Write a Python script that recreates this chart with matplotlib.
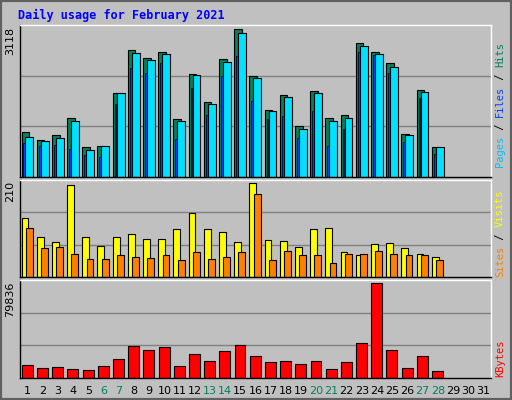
import matplotlib
matplotlib.use("Agg")
import matplotlib.pyplot as plt
from matplotlib.patches import Rectangle

days = list(range(1, 32))
hits = [959,774,877,1247,630,651,1782,2686,2522,2645,1227,2172,1576,2501,3118,2131,1412,1741,1083,1823,1247,1309,2830,2645,2399,898,1843,630]
files = [836,754,815,1185,569,651,1782,2625,2481,2604,1185,2152,1535,2440,3050,2090,1391,1700,1021,1782,1185,1247,2769,2604,2316,877,1802,630]
pages = [713,651,672,589,466,425,1535,2296,2193,2419,795,1885,1309,2131,2563,1597,1227,1288,815,1391,651,1021,2645,2584,2193,733,1679,480]
visits = [132,89,77,205,89,70,89,96,84,84,107,143,107,100,77,210,82,80,66,107,109,55,48,73,75,64,52,45]
sites = [109,64,66,52,41,41,50,45,43,48,39,55,41,45,55,186,39,57,48,50,32,52,52,57,52,48,48,39]
kbytes = [10782,8159,9033,7285,6411,9908,16027,26517,23895,25643,9908,20398,14279,23021,27392,18650,13404,14279,11656,14279,7285,13404,29140,79836,23895,8159,18650,5537]
weekend = [6,7,13,14,20,21,27,28]

W, H = 512, 400
fig = plt.figure(figsize=(W/100, H/100), dpi=100, facecolor="#c0c0c0")
fig.add_artist(Rectangle((0, 0), 1, 1, transform=fig.transFigure, fill=False, ec="#606060", lw=3))
mono = "DejaVu Sans Mono"

def ax_px(x0, y0, x1, y1):
    a = fig.add_axes([x0/W, 1-y1/H, (x1-x0)/W, (y1-y0)/H], facecolor="#c0c0c0")
    a.set_xlim(0.5, 31.5)
    a.set_xticks([]); a.set_yticks([])
    for s in a.spines.values():
        s.set_color("black"); s.set_linewidth(1)
    a.spines["top"].set_color("white"); a.spines["right"].set_color("white")
    return a

n = len(hits)
x = list(range(1, n+1))

a1 = ax_px(20, 25, 491, 177)
top1 = 3118*1.03
a1.set_ylim(0, top1)
for g in (top1/3, 2*top1/3):
    a1.axhline(g, color="#808080", lw=1, zorder=0)
a1.bar([i-0.4 for i in x], hits, width=0.5, align="edge", color="#00805c", ec="black", lw=0.8)
a1.bar([i-0.14 for i in x], files, width=0.52, align="edge", color="#00e0ff", ec="black", lw=0.8)
a1.bar([i-0.27 for i in x], pages, width=0.12, align="edge", color="#0040ff", ec="black", lw=0.5)

a2 = ax_px(20, 180, 491, 277)
top2 = 210*1.03
a2.set_ylim(0, top2)
for g in (top2/3, 2*top2/3):
    a2.axhline(g, color="#808080", lw=1, zorder=0)
a2.bar([i-0.4 for i in x], visits, width=0.45, align="edge", color="#ffff00", ec="black", lw=0.8)
a2.bar([i-0.12 for i in x], sites, width=0.45, align="edge", color="#ff8000", ec="black", lw=0.8)

a3 = ax_px(20, 280, 491, 378)
top3 = 79836*1.03
a3.set_ylim(0, top3)
for g in (top3/3, 2*top3/3):
    a3.axhline(g, color="#808080", lw=1, zorder=0)
a3.bar([i-0.38 for i in x], kbytes, width=0.72, align="edge", color="#ff0000", ec="black", lw=0.8)

a3.set_xticks(days)
a3.set_xticklabels([str(d) for d in days], fontsize=8, fontfamily="DejaVu Sans")
a3.tick_params(axis="x", length=0, pad=6)
for lab, d in zip(a3.get_xticklabels(), days):
    lab.set_color("#00805c" if d in weekend else "black")

fig.text(18/W, 1-15/H, "Daily usage for February 2021", color="#0000ff", fontsize=8.5,
         fontweight="bold", family=mono, va="center", ha="left")

for lbl, y in (("3118", 27), ("210", 181), ("79836", 282)):
    fig.text(10/W, 1-y/H, lbl, rotation=90, fontsize=8, family="DejaVu Sans", ha="center", va="top")

renderer = fig.canvas.get_renderer()

def vlabel(parts, ybottom):
    y = ybottom
    for txt, col in parts:
        t = fig.text(500/W, 1-y/H, txt, rotation=90, fontsize=7.5, family=mono, color=col,
                     ha="center", va="bottom")
        bb = t.get_window_extent(renderer=renderer)
        y -= bb.height

vlabel([("Pages", "#00c0ff"), (" / ", "black"), ("Files", "#0040ff"), (" / ", "black"), ("Hits", "#00805c")], 167)
vlabel([("Sites", "#ff8000"), (" / ", "black"), ("Visits", "#ffff00")], 277)
vlabel([("KBytes", "#ff0000")], 377)

fig.savefig("out.png", dpi=100, facecolor=fig.get_facecolor())
